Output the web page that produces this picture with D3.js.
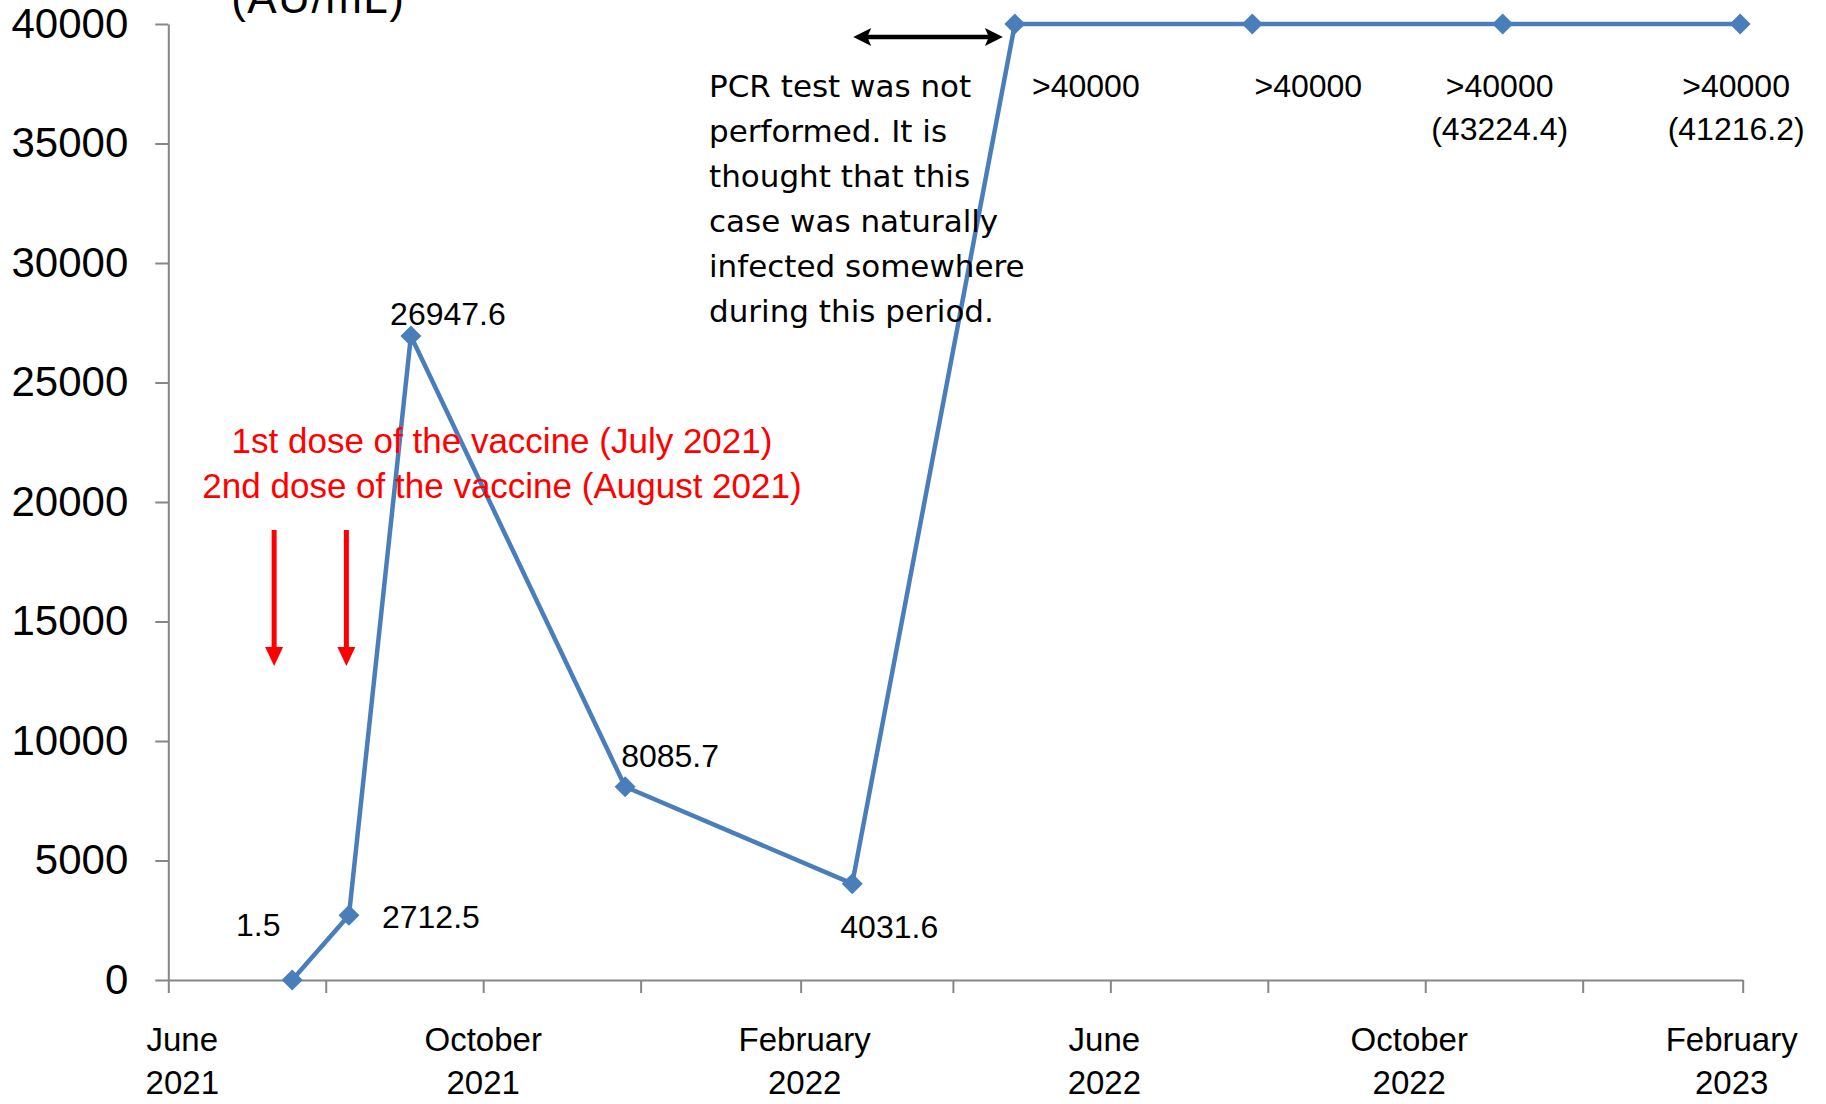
<!DOCTYPE html>
<html>
<head>
<meta charset="utf-8">
<script src="https://cdn.jsdelivr.net/npm/d3@7"></script>
<style>
  body { margin: 0; background: #fff; }
  text { font-family: "Liberation Sans", Arial, sans-serif; fill: #000; }
  .axis path, .axis line { stroke: #868686; stroke-width: 2; }
  .y.axis text { font-size: 42px; }
  .xlabel { font-size: 33px; }
  .point-label { font-size: 32px; }
  .series { fill: none; stroke: #4a7ebb; stroke-width: 4.5; stroke-linejoin: round; }
  .marker { fill: #4a7ebb; }
  .dose { fill: #ff0000; font-size: 35px; }
  .note { font-family: "DejaVu Sans", sans-serif; font-size: 31px; }
</style>
</head>
<body>
<div id="chart"></div>
<script>
/* global d3 */

// sampling dates and antibody titer (AU/mL); values above 40000 are drawn at the cap
var sampleDates = ['2021-07-19', '2021-08-10', '2021-09-03', '2021-11-25', '2022-02-21',
                   '2022-04-25', '2022-07-26', '2022-10-31', '2023-01-31'];
var titers = [1.5, 2712.5, 26947.6, 8085.7, 4031.6, 40000, 40000, 40000, 40000];
var pointLabels = [['1.5'], ['2712.5'], ['26947.6'], ['8085.7'], ['4031.6'],
                   ['>40000'], ['>40000'], ['>40000', '(43224.4)'], ['>40000', '(41216.2)']];

var yTicks = [0, 5000, 10000, 15000, 20000, 25000, 30000, 35000, 40000];
var xTickLabels = [['June', '2021'], ['October', '2021'], ['February', '2022'],
                   ['June', '2022'], ['October', '2022'], ['February', '2023']];

var doseDates = ['2021-07-12', '2021-08-09'];
var doseText = ['1st dose of the vaccine (July 2021)', '2nd dose of the vaccine (August 2021)'];
var noteText = ['PCR test was not', 'performed. It is', 'thought that this',
                'case was naturally', 'infected somewhere', 'during this period.'];

// where each point label sits relative to its marker (baseline of first line)
var labelPlacement = [
  { dx: -34, dy: -44, anchor: 'middle' },
  { dx: 33, dy: 13, anchor: 'start' },
  { dx: 37, dy: -11, anchor: 'middle' },
  { dx: -4, dy: -20, anchor: 'start' },
  { dx: 37, dy: 54, anchor: 'middle' },
  { dx: 71, dy: 73, anchor: 'middle' },
  { dx: 56, dy: 73, anchor: 'middle' },
  { dx: -3, dy: 73, anchor: 'middle' },
  { dx: -4, dy: 73, anchor: 'middle' }
];
var xLabelNudge = [14, 0, 4, -6, -16, -11];

var W = 1826, H = 1104;
var margin = { top: 24, right: 83.3, bottom: 124, left: 168.3 };
var width = W - margin.left - margin.right,
    height = H - margin.top - margin.bottom;

var parse = d3.timeParse('%Y-%m-%d');
var start = parse('2021-06-01'), end = parse('2023-02-01');

var x = d3.scaleTime().domain([start, end]).range([0, width]);
var y = d3.scaleLinear().domain([0, 40000]).range([height, 0]);

var root = d3.select('#chart').append('svg')
    .attr('width', W)
    .attr('height', H);
root.append('rect').attr('width', W).attr('height', H).attr('fill', '#fff');

var svg = root.append('g')
    .attr('transform', 'translate(' + margin.left + ',' + margin.top + ')');

// y axis label, mostly cut off at the top edge (as in the original figure)
svg.append('text')
    .attr('x', 150)
    .attr('y', -11)
    .attr('text-anchor', 'middle')
    .style('font-size', '44px')
    .style('letter-spacing', '1.5px')
    .text('(AU/mL)');

// axes
var xTickDates = d3.range(11).map(function (i) { return d3.timeMonth.offset(start, 2 * i); });

svg.append('g')
    .attr('class', 'x axis')
    .attr('transform', 'translate(0,' + height + ')')
    .call(d3.axisBottom(x).tickValues(xTickDates).tickSize(13).tickSizeOuter(0).tickFormat(''));

svg.append('g')
    .attr('class', 'y axis')
    .call(d3.axisLeft(y).tickValues(yTicks).tickSize(13).tickSizeOuter(0)
      .tickPadding(27).tickFormat(d3.format('d')));

// two-line month labels on every other tick
xTickLabels.forEach(function (lines, i) {
  var t = svg.append('text')
      .attr('class', 'xlabel')
      .attr('text-anchor', 'middle')
      .attr('transform', 'translate(' + (x(xTickDates[i * 2]) + xLabelNudge[i]) + ',' + (height + 71) + ')');
  lines.forEach(function (line, j) {
    t.append('tspan').attr('x', 0).attr('y', j * 43).text(line);
  });
});

// series
var points = sampleDates.map(function (d, i) {
  return { date: parse(d), value: titers[i], label: pointLabels[i], place: labelPlacement[i] };
});

var line = d3.line()
    .x(function (d) { return x(d.date); })
    .y(function (d) { return y(d.value); });

svg.append('path')
    .attr('class', 'series')
    .attr('d', line(points));

svg.selectAll('.marker')
    .data(points)
    .enter().append('path')
    .attr('class', 'marker')
    .attr('d', d3.symbol(d3.symbolSquare, 220))
    .attr('transform', function (d) {
      return 'translate(' + x(d.date) + ',' + y(d.value) + ') rotate(45)';
    });

points.forEach(function (d) {
  var t = svg.append('text')
      .attr('class', 'point-label')
      .attr('text-anchor', d.place.anchor)
      .attr('transform', 'translate(' + (x(d.date) + d.place.dx) + ',' + (y(d.value) + d.place.dy) + ')');
  d.label.forEach(function (txt, j) {
    t.append('tspan').attr('x', 0).attr('y', j * 43).text(txt);
  });
});

// vaccination annotation
doseText.forEach(function (txt, i) {
  svg.append('text')
      .attr('class', 'dose')
      .attr('x', 502 - margin.left)
      .attr('y', 453 - margin.top + i * 45)
      .attr('text-anchor', 'middle')
      .text(txt);
});

doseDates.forEach(function (d) {
  var cx = x(parse(d)), top = 530 - margin.top, tip = 666 - margin.top;
  svg.append('line')
      .attr('x1', cx).attr('x2', cx)
      .attr('y1', top).attr('y2', tip - 16)
      .attr('stroke', '#ff0000')
      .attr('stroke-width', 5);
  svg.append('path')
      .attr('d', 'M' + (cx - 9) + ',' + (tip - 19) + 'L' + (cx + 9) + ',' + (tip - 19) + 'L' + cx + ',' + tip + 'Z')
      .attr('fill', '#ff0000');
});

// period without PCR test
var ax1 = x(points[4].date) + 1,
    ax2 = x(points[5].date) - 12,
    ay = y(40000) + 13;
svg.append('line')
    .attr('x1', ax1 + 12).attr('x2', ax2 - 12)
    .attr('y1', ay).attr('y2', ay)
    .attr('stroke', '#000')
    .attr('stroke-width', 4.5);
svg.append('path')
    .attr('d', 'M' + ax1 + ',' + ay + 'L' + (ax1 + 18) + ',' + (ay - 9) + 'L' + (ax1 + 14) + ',' + ay +
               'L' + (ax1 + 18) + ',' + (ay + 9) + 'Z')
    .attr('fill', '#000');
svg.append('path')
    .attr('d', 'M' + ax2 + ',' + ay + 'L' + (ax2 - 18) + ',' + (ay - 9) + 'L' + (ax2 - 14) + ',' + ay +
               'L' + (ax2 - 18) + ',' + (ay + 9) + 'Z')
    .attr('fill', '#000');

noteText.forEach(function (txt, i) {
  svg.append('text')
      .attr('class', 'note')
      .attr('x', 709 - margin.left)
      .attr('y', 97 - margin.top + i * 45)
      .text(txt);
});
</script>
</body>
</html>
